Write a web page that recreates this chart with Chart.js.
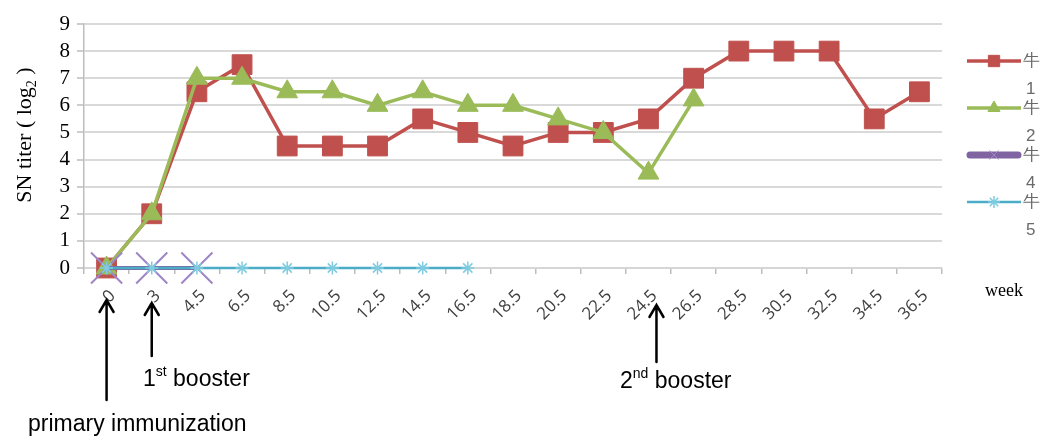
<!DOCTYPE html>
<html>
<head>
<meta charset="utf-8">
<script src="https://cdn.jsdelivr.net/npm/chart.js@4.4.1/dist/chart.umd.min.js"></script>
<style>
  html, body { margin: 0; padding: 0; background: #fff; }
  #wrap { width: 1048px; height: 439px; position: relative; }
</style>
</head>
<body>
<div id="wrap"><canvas id="c" width="1048" height="439"></canvas></div>
<script>
// Sampling weeks
const weeks = ['0', '3', '4.5', '6.5', '8.5', '10.5', '12.5', '14.5', '16.5', '18.5',
               '20.5', '22.5', '24.5', '26.5', '28.5', '30.5', '32.5', '34.5', '36.5'];

// SN titer (log2) per animal
const cow1 = [0, 2, 6.5, 7.5, 4.5, 4.5, 4.5, 5.5, 5, 4.5, 5, 5, 5.5, 7, 8, 8, 8, 5.5, 6.5];
const cow2 = [0, 2, 7, 7, 6.5, 6.5, 6, 6.5, 6, 6, 5.5, 5, 3.5, 6.2, null, null, null, null, null];
const cow4 = [0, 0, 0, null, null, null, null, null, null, null, null, null, null, null, null, null, null, null, null];
const cow5 = [0, 0, 0, 0, 0, 0, 0, 0, 0, null, null, null, null, null, null, null, null, null, null];

const yTicks = [0, 1, 2, 3, 4, 5, 6, 7, 8, 9];

const seriesNames = ['牛 1', '牛 2', '牛 4', '牛 5'];

// Immunization events: category index and label
const events = [
  { idx: 0, dx: 0, top: 300, bottom: 400, label: 'primary immunization', sup: '', tx: 28, ty: 431 },
  { idx: 1, dx: 0, top: 303, bottom: 356, label: '1', sup: 'st', rest: ' booster', tx: 143, ty: 386 },
  { idx: 12, dx: 8, top: 305, bottom: 362, label: '2', sup: 'nd', rest: ' booster', tx: 620, ty: 388 }
];

const serif = "'Liberation Serif', 'Times New Roman', serif";
const sans = "'Liberation Sans', Arial, sans-serif";

const styles = [
  { color: '#C0504D', fill: '#C0504D', style: 'rect', radius: 14, width: 3.5, legendRadius: 8, order: 4 },
  { color: '#9BBB59', fill: '#9BBB59', style: 'triangle', radius: 12, width: 3.5, legendRadius: 7, order: 3 },
  { color: '#8064A2', fill: 'rgba(0,0,0,0)', style: 'crossRot', radius: 22, width: 4, legendRadius: 6, order: 2, pBorder: '#9D86C7', pWidth: 2 },
  { color: '#4BACC6', fill: '#4BACC6', style: 'star', radius: 6.5, width: 2.5, legendRadius: 6, order: 1, pBorder: '#7FCBE0', pWidth: 1.5 }
];

const values = [cow1, cow2, cow4, cow5];

const datasets = values.map((v, i) => {
  const s = styles[i];
  return {
    label: seriesNames[i],
    data: v,
    borderColor: s.color,
    backgroundColor: s.fill,
    borderWidth: s.width,
    pointStyle: s.style,
    pointRadius: s.radius,
    pointHoverRadius: s.radius,
    pointBackgroundColor: s.fill,
    pointBorderColor: s.pBorder || s.color,
    pointBorderWidth: s.pWidth || 1,
    tension: 0,
    spanGaps: false,
    clip: false,
    order: s.order
  };
});

// Custom drawing: axis title, legend, "week" label and event arrows
const decorations = {
  id: 'decorations',
  afterDraw(chart) {
    const ctx = chart.ctx;
    const xs = chart.scales.x;

    // Y axis title with subscript
    ctx.save();
    ctx.fillStyle = '#000';
    ctx.translate(31, 135);
    ctx.rotate(-Math.PI / 2);
    ctx.textBaseline = 'alphabetic';
    const mainFont = '22px ' + serif;
    const subFont = '14px ' + serif;
    const parts = [
      { t: 'SN titer ( log', f: mainFont, dy: 0 },
      { t: '2', f: subFont, dy: 5 },
      { t: ' )', f: mainFont, dy: 0 }
    ];
    let total = 0;
    parts.forEach(p => { ctx.font = p.f; p.w = ctx.measureText(p.t).width; total += p.w; });
    let cx = -total / 2;
    parts.forEach(p => { ctx.font = p.f; ctx.fillText(p.t, cx, p.dy); cx += p.w; });
    ctx.restore();

    // Legend
    ctx.save();
    const lx0 = 967, lx1 = 1021;
    const rows = [61, 108, 155, 202];
    chart.data.datasets.forEach((ds, i) => {
      const y = rows[i];
      const s = styles[i];
      ctx.strokeStyle = ds.borderColor;
      ctx.lineWidth = i === 2 ? 7 : s.width;
      ctx.lineCap = i === 2 ? 'round' : 'butt';
      ctx.beginPath();
      ctx.moveTo(lx0 + (i === 2 ? 3 : 0), y);
      ctx.lineTo(lx1 - (i === 2 ? 3 : 0), y);
      ctx.stroke();
      ctx.fillStyle = ds.pointBackgroundColor;
      ctx.strokeStyle = ds.pointBorderColor;
      ctx.lineWidth = i === 2 ? 1 : (ds.pointBorderWidth || 1);
      Chart.helpers.drawPoint(ctx, {
        pointStyle: ds.pointStyle,
        radius: s.legendRadius,
        rotation: 0,
        borderWidth: ctx.lineWidth
      }, (lx0 + lx1) / 2, y);
      const [word, num] = ds.label.split(' ');
      ctx.fillStyle = '#6a6a6a';
      ctx.font = '17px ' + sans;
      ctx.textAlign = 'left';
      ctx.textBaseline = 'middle';
      ctx.fillText(word, 1023, y);
      ctx.fillText(num, 1026, y + 28);
    });
    ctx.restore();

    // "week" label
    ctx.save();
    ctx.fillStyle = '#000';
    ctx.font = '18px ' + serif;
    ctx.textBaseline = 'middle';
    ctx.fillText('week', 985, 291);
    ctx.restore();

    // Event arrows and labels
    ctx.save();
    ctx.strokeStyle = '#000';
    ctx.fillStyle = '#000';
    ctx.lineWidth = 2.5;
    ctx.lineCap = 'round';
    events.forEach(ev => {
      const x = xs.getPixelForValue(ev.idx) + ev.dx;
      ctx.beginPath();
      ctx.moveTo(x, ev.bottom);
      ctx.lineTo(x, ev.top);
      ctx.moveTo(x - 7, ev.top + 12);
      ctx.lineTo(x, ev.top);
      ctx.lineTo(x + 7, ev.top + 12);
      ctx.stroke();

      ctx.textBaseline = 'alphabetic';
      ctx.textAlign = 'left';
      let tx = ev.tx;
      ctx.font = '23px ' + sans;
      ctx.fillText(ev.label, tx, ev.ty);
      tx += ctx.measureText(ev.label).width;
      if (ev.sup) {
        ctx.font = '14px ' + sans;
        ctx.fillText(ev.sup, tx, ev.ty - 10);
        tx += ctx.measureText(ev.sup).width;
        ctx.font = '23px ' + sans;
        ctx.fillText(ev.rest, tx, ev.ty);
      }
    });
    ctx.restore();
  }
};

new Chart(document.getElementById('c'), {
  type: 'line',
  data: { labels: weeks, datasets },
  options: {
    responsive: false,
    animation: false,
    events: [],
    layout: { padding: { top: 18, right: 106, left: 0, bottom: 0 } },
    plugins: { legend: { display: false }, tooltip: { enabled: false } },
    scales: {
      x: {
        type: 'category',
        offset: true,
        afterFit(scale) { scale.height = 171; },
        grid: {
          display: true,
          drawOnChartArea: false,
          drawTicks: true,
          offset: true,
          tickLength: 6,
          color: '#bdbdbd',
          lineWidth: 1.5
        },
        border: { display: true, color: '#d6d6d6', width: 2 },
        ticks: {
          autoSkip: false,
          maxRotation: 45,
          minRotation: 45,
          padding: 12,
          labelOffset: 6,
          color: '#404040',
          font: { family: "'Open Sans', sans-serif", size: 17 }
        }
      },
      y: {
        min: 0,
        max: 9,
        afterFit(scale) { scale.width = 84; },
        afterBuildTicks(scale) { scale.ticks = yTicks.map(v => ({ value: v })); },
        grid: {
          color: '#d9d9d9',
          lineWidth: 2,
          tickLength: 7,
          tickColor: '#bdbdbd',
          tickWidth: 1.5
        },
        border: { display: true, color: '#bdbdbd', width: 1.5 },
        ticks: {
          autoSkip: false,
          padding: 7,
          color: '#000',
          font: { family: serif, size: 21 }
        }
      }
    }
  },
  plugins: [decorations]
});
</script>
</body>
</html>
